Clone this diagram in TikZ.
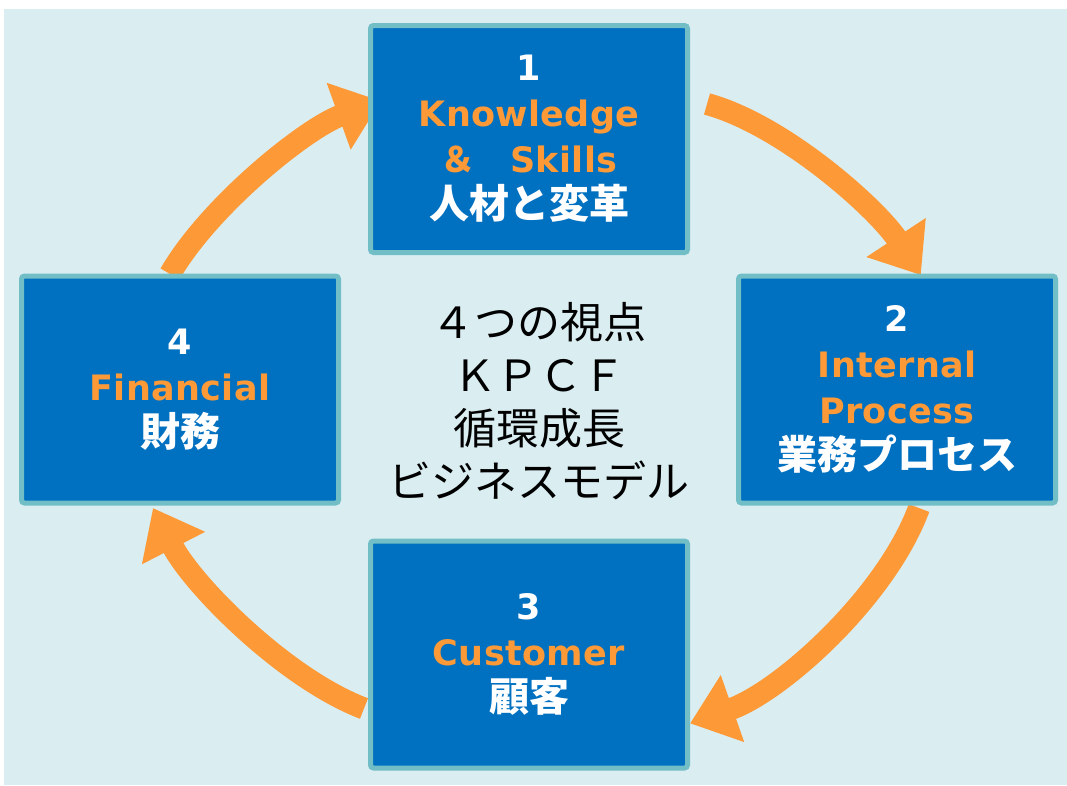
\documentclass[tikz,border=0pt]{standalone}
\usepackage{fontspec}
\setmainfont{DejaVu Sans}
\newfontfamily\lat[LetterSpace=1]{DejaVu Sans}
\newfontfamily\jp{Noto Sans CJK JP}
\usetikzlibrary{arrows.meta}
\definecolor{kBg}{RGB}{218,238,242}
\definecolor{kBlue}{RGB}{0,112,192}
\definecolor{kTeal}{RGB}{114,190,198}
\definecolor{kOrange}{RGB}{253,154,55}
\begin{document}
\begin{tikzpicture}[x=1pt,y=-1pt,
  box/.style={draw=kTeal, fill=kBlue, line width=5pt, rounded corners=3pt,
    minimum width=317pt, minimum height=227pt, inner sep=0pt, align=center,
    text=white, font=\lat\bfseries\fontsize{35}{46}\selectfont},
  flow/.style={draw=kOrange, line width=22pt, -{Triangle[length=45pt,width=68pt]}},
  center text/.style={font=\jp\fontsize{43}{53}\selectfont, align=center, text=black, inner sep=0pt}]
\newcommand{\jpb}[1]{{\jp\bfseries\fontsize{40}{46}\selectfont #1}}
\newcommand{\eng}[1]{{\color{kOrange}#1}}
\useasboundingbox (0,0) rectangle (1067,785);
\fill[kBg] (4,9) rectangle (1067,785);
% arrow end points
\coordinate (a1s) at (170,274);   \coordinate (a1e) at (381,101);
\coordinate (a2s) at (707,104);   \coordinate (a2e) at (920.8,275.1);
\coordinate (a3s) at (919,508);   \coordinate (a3e) at (690,723.4);
\coordinate (a4s) at (364,708.5); \coordinate (a4e) at (153,508);
\draw[flow] (a1s) .. controls (210,205) and (306.6,127.8) .. (a1e);
\draw[flow] (a2s) .. controls (783.7,124.9) and (877.1,208.7) .. (a2e);
\draw[flow] (a3s) .. controls (886.2,597.2) and (780.6,691.7) .. (a3e);
\draw[flow] (a4s) .. controls (284,678) and (192.1,584.2) .. (a4e);
% boxes
\node[box] (b1) at (529,139) {1\\\eng{Knowledge}\\\eng{\jp\bfseries ＆　}\eng{Skills}\\\jpb{人材と変革}};
\node[box] (b2) at (897,389.5) {2\\\eng{Internal}\\\eng{Process}\\\jpb{業務プロセス}};
\node[box] (b3) at (529,654.5) {3\\\eng{Customer}\\\jpb{顧客}};
\node[box] (b4) at (180,389.5) {4\\\eng{Financial}\\\jpb{財務}};
% center text
\node[center text] (c) at (539,401) {４つの視点\\ＫＰＣＦ\\循環成長\\ビジネスモデル};
\end{tikzpicture}
\end{document}
